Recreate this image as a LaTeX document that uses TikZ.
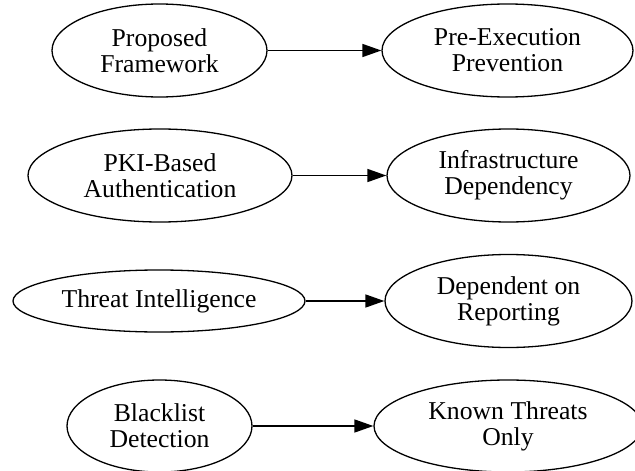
\documentclass[tikz,border=0pt]{standalone}
\usepackage{fontspec}
\setmainfont{Liberation Serif}
\usetikzlibrary{arrows.meta,shapes.geometric}
\tikzset{
  gnode/.style={ellipse, draw, line width=1.3pt, inner sep=0pt, align=center,
    font=\fontsize{25.7}{26}\selectfont},
  gedge/.style={line width=1.6pt, -{Triangle[length=19pt,width=13pt]}}
}
\begin{document}
\begin{tikzpicture}[x=1pt,y=-1pt]
\clip (0,0) rectangle (635,471);
\node[gnode, minimum width=215pt, minimum height=93pt] (pf) at (159.5,50.5) {Proposed\\Framework};
\node[gnode, minimum width=251pt, minimum height=93pt] (pe) at (507.5,50.5) {Pre-Execution\\Prevention};
\node[gnode, minimum width=264pt, minimum height=93pt] (pki) at (160,175.5) {PKI-Based\\Authentication};
\node[gnode, minimum width=243pt, minimum height=93pt] (inf) at (508.5,175.5) {Infrastructure\\Dependency};
\node[gnode, minimum width=292pt, minimum height=62pt] (ti) at (159,301) {Threat Intelligence};
\node[gnode, minimum width=247pt, minimum height=93pt] (dr) at (508.5,301) {Dependent on\\Reporting};
\node[gnode, minimum width=185pt, minimum height=92pt] (bd) at (159.5,426) {Blacklist\\Detection};
\node[gnode, minimum width=268pt, minimum height=92pt] (kt) at (508,426) {Known Threats\\Only};
\draw[gedge] (pf) -- (pe);
\draw[gedge] (pki) -- (inf);
\draw[gedge] (ti) -- (dr);
\draw[gedge] (bd) -- (kt);
\end{tikzpicture}
\end{document}
